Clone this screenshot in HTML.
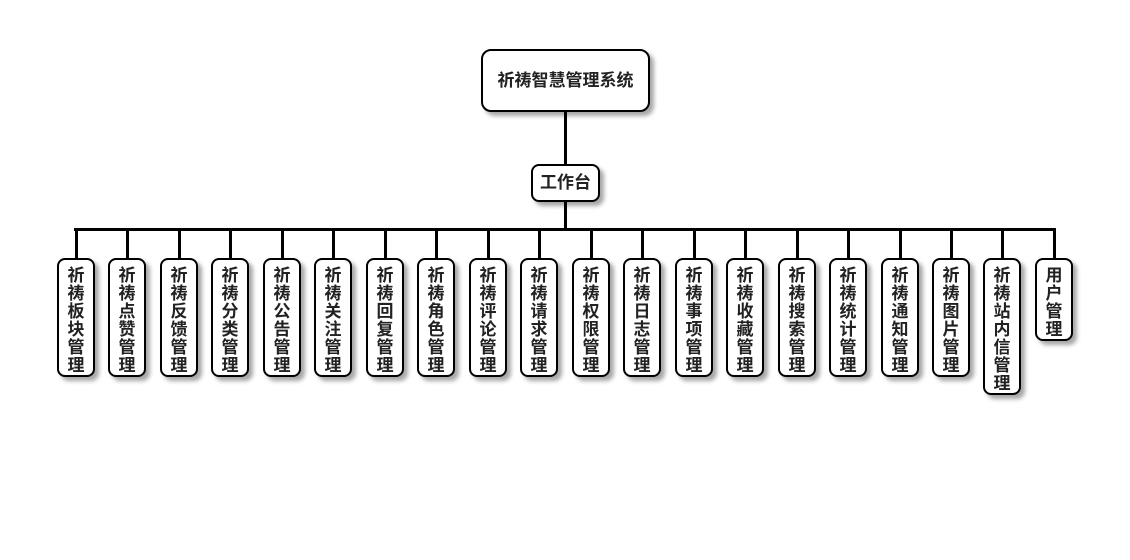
<!DOCTYPE html>
<html><head><meta charset="utf-8"><style>
body{margin:0;width:1130px;height:560px;background:#fff;position:relative;overflow:hidden;font-family:"Liberation Sans","Noto Sans CJK SC",sans-serif;font-weight:bold;color:#222}
.b{position:absolute;background:#fff;border:2px solid #000;box-sizing:border-box;border-radius:8px;box-shadow:4px 4px 4px rgba(0,0,0,.35);text-align:center}
.c{width:38px;top:258px;font-size:17px;line-height:18px;padding-top:7px;writing-mode:horizontal-tb}
.l{position:absolute;background:#000}
</style></head><body>
<div class="l" style="left:564px;top:110px;width:3px;height:56px"></div>
<div class="l" style="left:564px;top:200px;width:3px;height:30px"></div>
<div class="l" style="left:74px;top:228px;width:982px;height:3px"></div>
<div class="b" style="left:481px;top:49px;width:169px;height:63px;font-size:17px;line-height:59px;border-radius:10px">祈祷智慧管理系统</div>
<div class="b" style="left:531px;top:164px;width:69px;height:38px;font-size:17px;line-height:34px">工作台</div>
<div id="k"></div>
<script>
var n=["祈祷板块管理","祈祷点赞管理","祈祷反馈管理","祈祷分类管理","祈祷公告管理","祈祷关注管理","祈祷回复管理","祈祷角色管理","祈祷评论管理","祈祷请求管理","祈祷权限管理","祈祷日志管理","祈祷事项管理","祈祷收藏管理","祈祷搜索管理","祈祷统计管理","祈祷通知管理","祈祷图片管理","祈祷站内信管理","用户管理"];
var h="";
n.forEach(function(s,i){var cx=Math.round(76+i*51.47);
h+='<div class="l" style="left:'+(cx-1.5)+'px;top:229px;width:3px;height:30px"></div>';
h+='<div class="b c" style="left:'+(cx-19)+'px;height:'+(s.length*18+11)+'px">'+s.split("").join("<br>")+'</div>';});
document.getElementById("k").innerHTML=h;
</script>
</body></html>
